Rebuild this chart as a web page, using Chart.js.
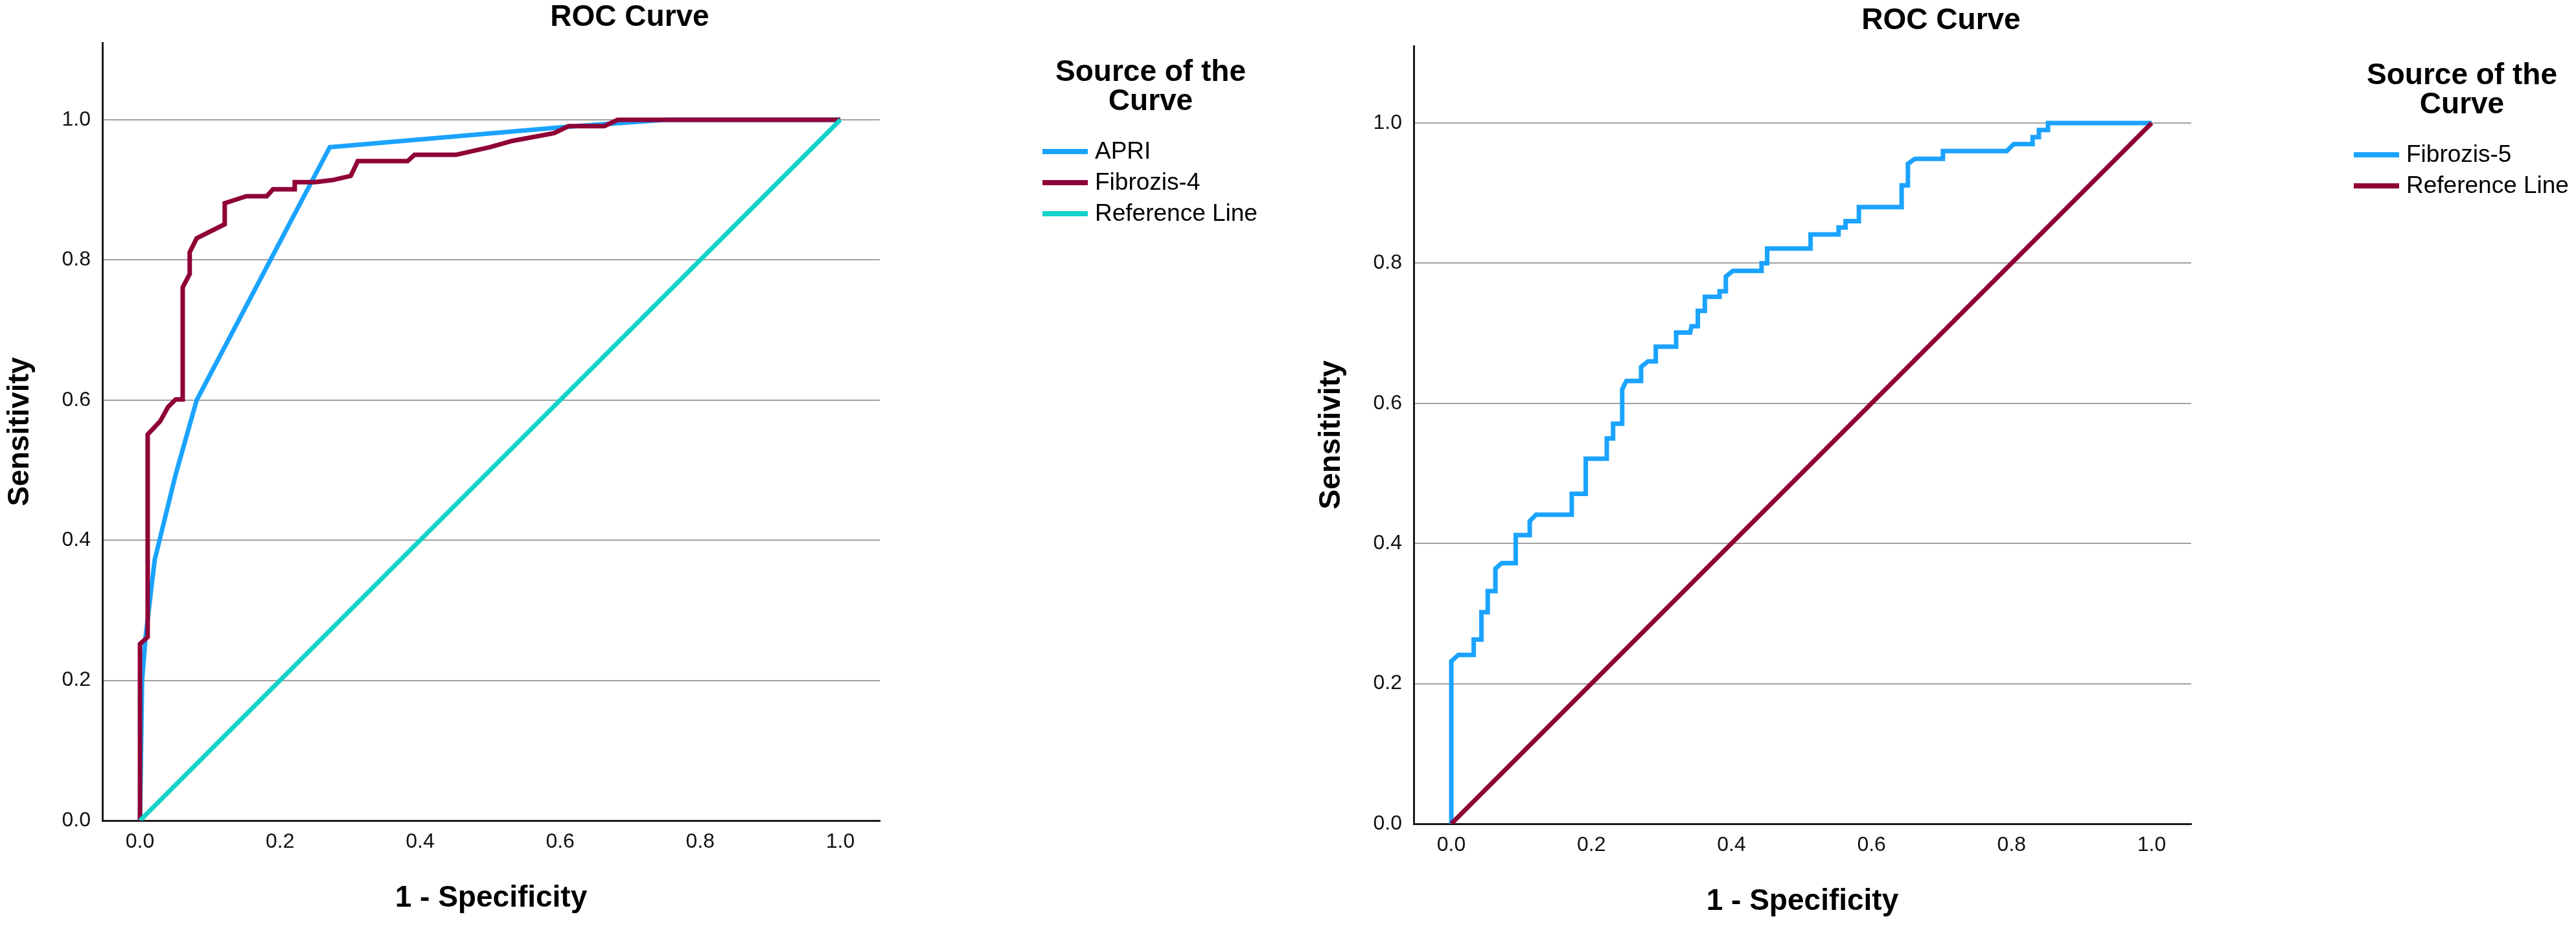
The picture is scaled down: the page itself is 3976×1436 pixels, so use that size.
<!DOCTYPE html>
<html>
<head>
<meta charset="utf-8">
<title>ROC Curve</title>
<script src="https://cdn.jsdelivr.net/npm/chart.js@4.4.0/dist/chart.umd.min.js"></script>
<style>
  html, body { margin: 0; padding: 0; background: #fff; overflow: hidden; }
  body { width: 3976px; height: 1436px; position: relative; }
  canvas { position: absolute; }
  #rocLeft { left: 0; top: 0; }
  #rocRight { left: 2024px; top: 5px; }
</style>
</head>
<body>
<canvas id="rocLeft" width="2024" height="1436"></canvas>
<canvas id="rocRight" width="2024" height="1436"></canvas>
<script>
// ---- data ----
const xTicks = [0, 0.2, 0.4, 0.6, 0.8, 1.0];
const yTicks = [0, 0.2, 0.4, 0.6, 0.8, 1.0];

const apriX = [0, 0.003, 0.008, 0.021, 0.051, 0.081, 0.271, 0.61, 0.75, 1.0];
const apriY = [0, 0.20, 0.262, 0.372, 0.494, 0.600, 0.961, 0.990, 1.0, 1.0];

const fib4X = [0, 0, 0.011, 0.011, 0.029, 0.040, 0.051, 0.061, 0.061, 0.071, 0.071, 0.081, 0.121, 0.121,
  0.152, 0.181, 0.190, 0.221, 0.221, 0.250, 0.275, 0.301, 0.311, 0.382, 0.392, 0.451, 0.500, 0.532,
  0.591, 0.612, 0.663, 0.682, 1.0];
const fib4Y = [0, 0.252, 0.262, 0.551, 0.570, 0.590, 0.601, 0.601, 0.761, 0.780, 0.811, 0.831, 0.851, 0.881,
  0.891, 0.891, 0.901, 0.901, 0.911, 0.911, 0.914, 0.920, 0.941, 0.941, 0.950, 0.950, 0.961, 0.970,
  0.981, 0.991, 0.991, 1.0, 1.0];

const fib5X = [0, 0, 0.010, 0.032, 0.032, 0.043, 0.043, 0.052, 0.052, 0.063, 0.063, 0.072, 0.092, 0.092,
  0.112, 0.112, 0.121, 0.172, 0.172, 0.192, 0.192, 0.222, 0.222, 0.231, 0.231, 0.244, 0.244, 0.250,
  0.271, 0.271, 0.281, 0.292, 0.292, 0.321, 0.321, 0.341, 0.343, 0.352, 0.352, 0.362, 0.362, 0.383,
  0.383, 0.392, 0.392, 0.402, 0.443, 0.443, 0.451, 0.451, 0.513, 0.513, 0.553, 0.553, 0.563, 0.563,
  0.582, 0.582, 0.643, 0.643, 0.652, 0.652, 0.662, 0.702, 0.702, 0.793, 0.803, 0.830, 0.830, 0.839,
  0.839, 0.852, 0.852, 1.0];
const fib5Y = [0, 0.232, 0.241, 0.241, 0.263, 0.263, 0.302, 0.302, 0.332, 0.332, 0.364, 0.372, 0.372, 0.412,
  0.412, 0.432, 0.441, 0.441, 0.471, 0.471, 0.521, 0.521, 0.550, 0.550, 0.571, 0.571, 0.620, 0.632,
  0.632, 0.652, 0.660, 0.660, 0.681, 0.681, 0.701, 0.701, 0.710, 0.710, 0.732, 0.732, 0.752, 0.752,
  0.760, 0.760, 0.781, 0.789, 0.789, 0.800, 0.800, 0.821, 0.821, 0.841, 0.841, 0.851, 0.851, 0.860,
  0.860, 0.880, 0.880, 0.911, 0.911, 0.942, 0.949, 0.949, 0.960, 0.960, 0.970, 0.970, 0.980, 0.980,
  0.990, 0.990, 1.0, 1.0];

const refX = [0, 1];
const refY = [0, 1];

const BLUE = '#1aa3ff';
const WINE = '#8f0037';
const TEAL = '#13d2cb';
const FONT = 'Arial, "Liberation Sans", Helvetica, sans-serif';

function pts(xs, ys) {
  return xs.map((x, i) => ({ x: x, y: ys[i] }));
}

function curve(label, xs, ys, color, order) {
  return {
    label: label,
    data: pts(xs, ys),
    showLine: true,
    borderColor: color,
    backgroundColor: color,
    borderWidth: 7,
    borderJoinStyle: 'miter',
    borderCapStyle: 'butt',
    pointRadius: 0,
    tension: 0,
    order: order
  };
}

// chart title and SPSS style legend, drawn on the same canvas
const spssDecor = {
  id: 'spssDecor',
  afterDraw(chart, args, opts) {
    const ctx = chart.ctx;
    ctx.save();
    ctx.fillStyle = '#000';
    ctx.textAlign = 'center';
    ctx.textBaseline = 'middle';
    ctx.font = 'bold 46px ' + FONT;
    ctx.fillText(opts.title, 972, 27);

    ctx.font = 'bold 46px ' + FONT;
    ctx.fillText('Source of the', 1776, 112);
    ctx.fillText('Curve', 1776, 157);

    ctx.textAlign = 'left';
    ctx.font = '37px ' + FONT;
    chart.data.datasets.forEach((ds, i) => {
      const y = 234 + i * 48;
      ctx.strokeStyle = ds.borderColor;
      ctx.lineWidth = 8;
      ctx.lineCap = 'butt';
      ctx.beginPath();
      ctx.moveTo(1609, y);
      ctx.lineTo(1679, y);
      ctx.stroke();
      ctx.fillText(ds.label, 1690, y + 1);
    });
    ctx.restore();
  }
};

function rocOptions() {
  return {
    responsive: false,
    animation: false,
    devicePixelRatio: 1,
    layout: { padding: { top: 66, right: 666, bottom: 0, left: 0 } },
    plugins: {
      legend: { display: false },
      title: { display: false },
      tooltip: { enabled: false },
      spssDecor: { title: 'ROC Curve' }
    },
    scales: {
      x: {
        type: 'linear',
        position: 'bottom',
        min: -0.0537,
        max: 1.0564,
        afterBuildTicks: s => { s.ticks = xTicks.map(v => ({ value: v })); },
        afterFit: s => { s.height = 169; },
        grid: { display: false, drawTicks: false },
        border: { display: true, color: '#1a1a1a', width: 3 },
        ticks: {
          padding: 14,
          color: '#111',
          font: { family: FONT, size: 32 },
          maxRotation: 0,
          callback: v => Number(v).toFixed(1)
        },
        title: {
          display: true,
          text: '1 - Specificity',
          color: '#000',
          font: { family: FONT, size: 46, weight: 'bold' },
          padding: { top: 0, bottom: 21 }
        }
      },
      y: {
        type: 'linear',
        min: 0,
        max: 1.11,
        afterBuildTicks: s => { s.ticks = yTicks.map(v => ({ value: v })); },
        afterFit: s => { s.width = 158; },
        grid: {
          drawTicks: false,
          lineWidth: 2,
          color: c => (c.tick && c.tick.value === 0) ? 'rgba(0,0,0,0)' : '#a0a0a0'
        },
        border: { display: true, color: '#1a1a1a', width: 3 },
        ticks: {
          padding: 18,
          color: '#111',
          font: { family: FONT, size: 32 },
          callback: v => Number(v).toFixed(1)
        },
        title: {
          display: true,
          text: 'Sensitivity',
          color: '#000',
          font: { family: FONT, size: 46, weight: 'bold' },
          padding: { top: 4, bottom: 0 }
        }
      }
    }
  };
}

new Chart(document.getElementById('rocLeft'), {
  type: 'scatter',
  data: {
    datasets: [
      curve('APRI', apriX, apriY, BLUE, 2),
      curve('Fibrozis-4', fib4X, fib4Y, WINE, 1),
      curve('Reference Line', refX, refY, TEAL, 0)
    ]
  },
  options: rocOptions(),
  plugins: [spssDecor]
});

new Chart(document.getElementById('rocRight'), {
  type: 'scatter',
  data: {
    datasets: [
      curve('Fibrozis-5', fib5X, fib5Y, BLUE, 1),
      curve('Reference Line', refX, refY, WINE, 0)
    ]
  },
  options: rocOptions(),
  plugins: [spssDecor]
});
</script>
</body>
</html>
